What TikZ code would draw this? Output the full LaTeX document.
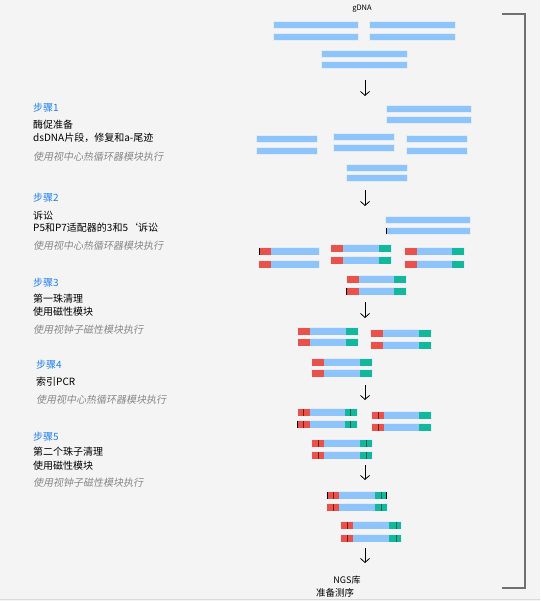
\documentclass[tikz,border=0pt]{standalone}
\usepackage{fontspec}
\setmainfont{Noto Sans CJK SC}
\newfontfamily\slantfont[FakeSlant=0.2]{Noto Sans CJK SC}
\usetikzlibrary{arrows.meta}

\definecolor{bgcol}{RGB}{244,244,244}
\definecolor{dnablue}{RGB}{142,196,252}
\definecolor{dnaedge}{RGB}{228,236,247}
\definecolor{adred}{RGB}{232,82,74}
\definecolor{adgreen}{RGB}{18,184,156}
\definecolor{darkred}{RGB}{120,26,22}
\definecolor{darkgreen}{RGB}{10,100,82}
\definecolor{steptitle}{RGB}{30,128,240}
\definecolor{notegray}{RGB}{135,135,135}
\definecolor{bracketgray}{RGB}{112,112,112}

% strand pieces, x/y in pixels
\newcommand{\dsbar}[3]{%
  \fill[dnaedge] ({#1-0.6},{#2-0.8}) rectangle ++({#3+1.2},8.1);
  \fill[dnablue] (#1,#2) rectangle ++(#3,6.5);}
\newcommand{\redbar}[3]{%
  \dsbar{#1}{#2}{#3}
  \fill[adred] (#1,#2) rectangle ++(12,6.5);}
\newcommand{\adbar}[3]{%
  \redbar{#1}{#2}{#3}
  \fill[adgreen] ({#1+#3-12},#2) rectangle ++(12,6.5);}
\newcommand{\stripe}[3][darkred]{\fill[#1] (#2,#3) rectangle ++(1.4,6.5);}
\newcommand{\blacktick}[2]{\fill[black] (#1,#2) rectangle ++(1.2,6.5);}

\tikzset{
  steparrow/.style={-{Straight Barb[length=4pt,width=9pt]},line width=0.8pt},
  titletext/.style={text=steptitle},
  notetext/.style={text=notegray,font=\fontsize{10}{11}\selectfont\slantfont},
}

\begin{document}
\begin{tikzpicture}[x=1pt,y=-1pt]

  \fill[bgcol] (0,0) rectangle (540,601);
  \useasboundingbox (0,0) rectangle (540,601);
  \draw[gray!30] (0,599.5) -- (540,599.5);

  % bracket
  \draw[bracketgray,line width=1.1pt] (502,14) -- (525,14) -- (525,588) -- (502,588);

  \node[inner sep=0,font=\fontsize{7.5}{8}\selectfont] (gdna) at (362,9) {gDNA};

  % left column
  \begin{scope}[every node/.style={anchor=west,inner sep=0,font=\fontsize{10}{11}\selectfont}]
    \node[titletext] (s1) at (33,108) {步骤1};
    \node (s1a) at (33,125) {酶促准备};
    \node (s1b) at (33,138) {dsDNA片段，修复和a-尾迹};
    \node[notetext] (s1n) at (33,157) {使用视中心热循环器模块执行};

    \node[titletext] (s2) at (33,198) {步骤2};
    \node (s2a) at (33,216) {诉讼};
    \node (s2b) at (33,228) {P5和P7适配器的3和5‘诉讼};
    \node[notetext] (s2n) at (33,246) {使用视中心热循环器模块执行};

    \node[titletext] (s3) at (33,283) {步骤3};
    \node (s3a) at (33,299) {第一珠清理};
    \node (s3b) at (33,312) {使用磁性模块};
    \node[notetext] (s3n) at (33,330) {使用视钟子磁性模块执行};

    \node[titletext] (s4) at (36,365) {步骤4};
    \node (s4a) at (36,382) {索引PCR};
    \node[notetext] (s4n) at (36,400) {使用视中心热循环器模块执行};

    \node[titletext] (s5) at (33,437) {步骤5};
    \node (s5a) at (33,452) {第二个珠子清理};
    \node (s5b) at (33,466) {使用磁性模块};
    \node[notetext] (s5n) at (33,483) {使用视钟子磁性模块执行};
  \end{scope}

  % gDNA
  \dsbar{274}{22}{84} \dsbar{274}{34}{84}
  \dsbar{370}{22}{85} \dsbar{370}{34}{85}
  \dsbar{322}{51}{85} \dsbar{322}{62}{85}

  % step 1
  \dsbar{387}{106}{84} \dsbar{387}{117}{84}
  \dsbar{257}{136}{60} \dsbar{257}{148}{60}
  \dsbar{334}{134}{60} \dsbar{334}{145}{60}
  \dsbar{407}{136}{60} \dsbar{407}{148}{60}
  \dsbar{347}{165}{60} \dsbar{347}{175}{60}

  % step 2
  \dsbar{386}{217}{84} \dsbar{386}{228}{84} \blacktick{385.5}{228}
  \redbar{259}{248}{60} \blacktick{258.5}{248}
  \redbar{259}{261}{60}
  \adbar{331}{245}{60} \adbar{331}{257}{60}
  \adbar{405}{248}{59} \adbar{405}{261}{59}
  \adbar{347}{276}{59} \adbar{347}{288}{59} \blacktick{346}{288}

  % step 3
  \adbar{298}{328}{60} \adbar{298}{339}{60}
  \adbar{371}{330}{60} \adbar{371}{342}{60}
  \adbar{312}{359}{60} \adbar{312}{370}{60}

  % step 4
  \adbar{298}{409}{59} \stripe{303}{409} \stripe[darkgreen]{350}{409}
  \adbar{298}{421}{59} \stripe{303}{421} \stripe[darkgreen]{350}{421} \blacktick{297}{421}
  \adbar{372}{412}{59} \stripe{378}{412}
  \adbar{372}{424}{59} \stripe{378}{424}
  \adbar{312}{440}{60} \stripe{318}{440} \stripe[darkgreen]{366}{440}
  \adbar{312}{452}{60} \stripe{318}{452} \stripe[darkgreen]{366}{452}

  % step 5
  \adbar{327}{492}{60} \stripe{333}{492} \stripe[darkgreen]{381}{492}
  \blacktick{326.5}{492} \blacktick{386}{492}
  \adbar{327}{504}{60} \stripe{333}{504} \stripe[darkgreen]{381}{504}
  \adbar{341}{522}{60} \stripe{347}{522} \stripe[darkgreen]{396}{522}
  \adbar{341}{535}{60} \stripe{347}{535} \stripe[darkgreen]{396}{535}

  % arrows between the stages
  \coordinate (a1) at (365,80);  \coordinate (b1) at (365,96);
  \coordinate (a2) at (365,190); \coordinate (b2) at (365,206);
  \coordinate (a3) at (365,302); \coordinate (b3) at (365,318);
  \coordinate (a4) at (365,385); \coordinate (b4) at (365,400);
  \coordinate (a5) at (365,465); \coordinate (b5) at (365,480);
  \coordinate (a6) at (365,548); \coordinate (b6) at (365,563);
  \foreach \i in {1,...,6}
    \draw[steparrow] (a\i) -- (b\i);

  \node[inner sep=0,font=\fontsize{9}{10}\selectfont] (ngs) at (347,580) {NGS库};
  \node[inner sep=0,font=\fontsize{9.5}{10}\selectfont] (seq) at (335,593) {准备测序};

\end{tikzpicture}
\end{document}
